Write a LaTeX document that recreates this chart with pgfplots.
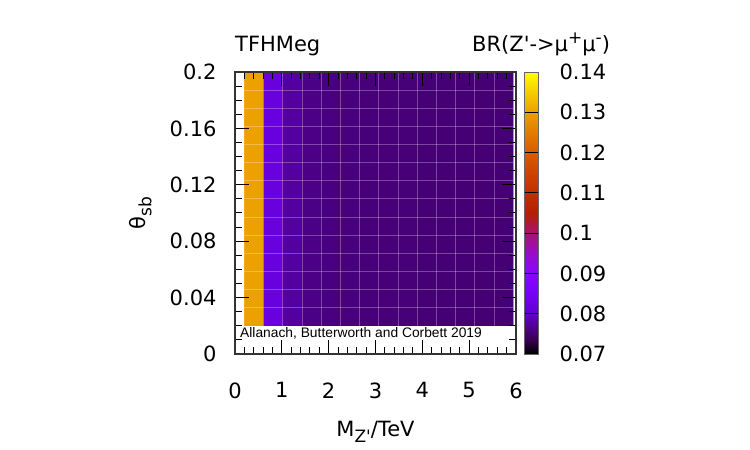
\documentclass[border=0pt]{standalone}
\usepackage{fontspec}
\setmainfont{DejaVu Sans}[Ligatures=TeXOff]
\newfontfamily\arialfont{Liberation Sans}
\usepackage{pgfplots}
\usepackage{pgfplotstable}
\pgfplotsset{compat=1.18}

% BR(Z' -> mu+ mu-) over (M_Z', theta_sb); cell centres, one value per mass bin
\pgfplotstableread{
x      y      c
0.405  0.065  0.1300
0.815  0.065  0.0820
1.225  0.065  0.0777
1.635  0.065  0.0762
2.045  0.065  0.0759
2.455  0.065  0.0757
2.865  0.065  0.0756
3.275  0.065  0.0755
3.685  0.065  0.0755
4.095  0.065  0.0754
4.505  0.065  0.0754
4.915  0.065  0.0754
5.325  0.065  0.0753
5.735  0.065  0.0753
0.405  0.155  0.1300
0.815  0.155  0.0820
1.225  0.155  0.0777
1.635  0.155  0.0762
2.045  0.155  0.0759
2.455  0.155  0.0757
2.865  0.155  0.0756
3.275  0.155  0.0755
3.685  0.155  0.0755
4.095  0.155  0.0754
4.505  0.155  0.0754
4.915  0.155  0.0754
5.325  0.155  0.0753
5.735  0.155  0.0753
}\brtable

\pgfplotsset{
  /pgf/number format/assume math mode=true,
  colormap={gnuplotdefault}{
    rgb=(0,0,0) rgb=(.224,0,.309) rgb=(.316,.001,.588) rgb=(.387,.003,.809)
    rgb=(.447,.008,.951) rgb=(.5,.016,1) rgb=(.548,.027,.951) rgb=(.592,.043,.809)
    rgb=(.632,.064,.588) rgb=(.671,.091,.309) rgb=(.707,.125,0) rgb=(.742,.166,0)
    rgb=(.775,.216,0) rgb=(.806,.275,0) rgb=(.837,.343,0) rgb=(.866,.422,0)
    rgb=(.894,.512,0) rgb=(.922,.614,0) rgb=(.949,.729,0) rgb=(.975,.857,0)
    rgb=(1,1,0)
  },
}

\newcommand{\lowsub}[1]{\raisebox{-0.3em}{\fontsize{17bp}{17bp}\selectfont #1}}
\newcommand{\highsup}[1]{\raisebox{0.4em}{\fontsize{17bp}{17bp}\selectfont #1}}

\begin{document}
\begin{tikzpicture}[font=\fontsize{21bp}{25bp}\selectfont]
\fill[white] (0,0) rectangle (750bp,450bp);
\path[use as bounding box] (0,0) rectangle (750bp,450bp);
\begin{axis}[
  at={(235bp,96bp)}, anchor=south west,
  scale only axis, width=281bp, height=282bp,
  clip=false,
  xmin=0, xmax=6, ymin=0, ymax=0.2,
  xtick={0,1,2,3,4,5,6},
  ytick={0,0.04,0.08,0.12,0.16,0.2},
  yticklabels={0,0.04,0.08,0.12,0.16,0.2},
  minor x tick num=4, minor y tick num=3,
  tick align=inside,
  major tick length=14bp, minor tick length=7bp,
  every tick/.style={black, line width=1bp},
  axis line style={black!80, line width=1.3bp},
  axis on top,
  scaled ticks=false,
  xticklabel style={yshift=-25bp},
  yticklabel style={xshift=-15bp},
  xlabel={M\lowsub{Z'}/TeV},
  xlabel style={at={(axis description cs:0.5,-0.2908)}, anchor=base},
  ylabel={θ\lowsub{sb}},
  ylabel style={at={(axis description cs:-0.3203,0.5)}, anchor=base},
  colormap name=gnuplotdefault,
  point meta min=0.07, point meta max=0.14,
  colorbar,
  colorbar style={
    at={(parent axis.north east)}, anchor=north west, xshift=0bp,
    scale only axis, width=13.5bp, height=282bp,
    ytick={0.07,0.08,0.09,0.1,0.11,0.12,0.13,0.14},
    yticklabels={0.07,0.08,0.09,0.1,0.11,0.12,0.13,0.14},
    scaled ticks=false,
    tick align=inside, major tick length=13.5bp,
    every tick/.style={black, line width=0.9bp},
    axis line style={black!60, line width=0.9bp},
    yticklabel style={xshift=18bp},
  },
]
\addplot[matrix plot*, mesh/cols=14, point meta=explicit]
  table[x=x, y=y, meta=c] {\brtable};

% cell boundaries of the scan
\pgfplotsinvokeforeach{1,...,13}{
  \draw[white, opacity=0.28, line width=0.8bp]
    (axis cs:{0.2+0.41*#1},0.02) -- (axis cs:{0.2+0.41*#1},0.2);
  \draw[white, opacity=0.28, line width=0.8bp]
    (axis cs:0.2,{0.02+0.0128571*#1}) -- (axis cs:5.94,{0.02+0.0128571*#1});
}

\node[anchor=base west, inner sep=0, font=\arialfont\fontsize{13.8bp}{15bp}\selectfont]
  at (axis cs:0.107,0.012) {Allanach, Butterworth and Corbett 2019};
\node[anchor=base west, inner sep=0, yshift=20bp] at (rel axis cs:0,1) {TFHMeg};
\node[anchor=base west, inner sep=0, xshift=237bp, yshift=20bp] at (rel axis cs:0,1)
  {BR(Z'->μ\highsup{+}μ\highsup{-})};
\end{axis}
\end{tikzpicture}
\end{document}
